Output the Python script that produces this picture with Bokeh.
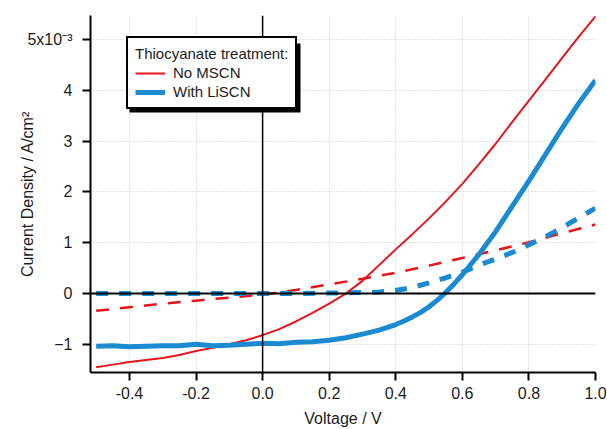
from bokeh.plotting import figure
from bokeh.models import (Range1d, FixedTicker, PrintfTickFormatter, Span,
                          Legend, LegendItem, BoxAnnotation)
from bokeh.embed import file_html
from bokeh.resources import INLINE

# J-V curves, current density in units of 1e-3 A/cm^2
v_light_no = [-0.5, -0.45, -0.4, -0.35, -0.3, -0.25, -0.2, -0.15, -0.1, -0.05,
              0.0, 0.05, 0.1, 0.15, 0.2, 0.25, 0.3, 0.35, 0.4, 0.45, 0.5, 0.55,
              0.6, 0.65, 0.7, 0.75, 0.8, 0.85, 0.9, 0.95, 1.0]
j_light_no = [-1.45, -1.40, -1.35, -1.31, -1.27, -1.21, -1.13, -1.07, -1.00, -0.92,
              -0.82, -0.70, -0.55, -0.38, -0.20, 0.0, 0.25, 0.56, 0.87, 1.17, 1.48,
              1.81, 2.16, 2.55, 2.95, 3.38, 3.80, 4.22, 4.64, 5.06, 5.46]

v_light_li = [-0.5, -0.45, -0.4, -0.35, -0.3, -0.25, -0.2, -0.15, -0.1, -0.05,
              0.0, 0.05, 0.1, 0.15, 0.2, 0.25, 0.3, 0.35, 0.4, 0.425, 0.45, 0.475,
              0.5, 0.525, 0.55, 0.575, 0.6, 0.65, 0.7, 0.75, 0.8, 0.85, 0.9, 0.95, 1.0]
j_light_li = [-1.04, -1.03, -1.05, -1.04, -1.03, -1.03, -1.00, -1.03, -1.02, -1.00,
              -0.98, -0.99, -0.96, -0.95, -0.92, -0.87, -0.80, -0.72, -0.61, -0.54,
              -0.46, -0.37, -0.26, -0.13, 0.02, 0.19, 0.37, 0.77, 1.22, 1.72, 2.22,
              2.74, 3.26, 3.75, 4.20]

v_dark_no = [-0.5, -0.4, -0.3, -0.2, -0.1, 0.0, 0.1, 0.2, 0.3, 0.4, 0.5, 0.6,
             0.7, 0.8, 0.9, 1.0]
j_dark_no = [-0.34, -0.27, -0.20, -0.14, -0.08, -0.02, 0.07, 0.18, 0.29, 0.41,
             0.55, 0.70, 0.85, 1.01, 1.19, 1.36]

v_dark_li = [-0.5, -0.4, -0.3, -0.2, -0.1, 0.0, 0.1, 0.2, 0.3, 0.35, 0.4, 0.45,
             0.5, 0.55, 0.6, 0.65, 0.7, 0.75, 0.8, 0.85, 0.9, 0.95, 1.0]
j_dark_li = [0.0, 0.0, 0.0, 0.0, 0.0, 0.0, 0.0, 0.01, 0.02, 0.03, 0.06, 0.12,
             0.21, 0.31, 0.42, 0.56, 0.68, 0.81, 0.96, 1.12, 1.30, 1.49, 1.68]

x_ticks = [-0.4, -0.2, 0.0, 0.2, 0.4, 0.6, 0.8, 1.0]
y_ticks = [-1, 0, 1, 2, 3, 4, 5]
y_top_label = "5x10\u207b\u00b3"

x_label = "Voltage / V"
y_label = "Current Density / A/cm\u00b2"
legend_title = "Thiocyanate treatment:"
series_labels = ["No MSCN", "With LiSCN"]

RED = "#e8141c"
BLUE = "#1a8bd0"
FONT = "Liberation Sans"
TEXT = "#1c1c1c"

p = figure(width=607, height=429, output_backend="svg", toolbar_location=None,
           x_range=Range1d(-0.517, 1.0), y_range=Range1d(-1.555, 5.476),
           min_border_left=90, min_border_right=12, min_border_top=15,
           min_border_bottom=56)
p.outline_line_color = None
p.background_fill_color = "white"
p.border_fill_color = "white"

for ax in (p.xaxis[0], p.yaxis[0]):
    ax.axis_line_color = "black"
    ax.axis_line_width = 2
    ax.major_tick_line_color = "black"
    ax.major_tick_line_width = 2
    ax.major_tick_out = 8
    ax.major_tick_in = 0
    ax.minor_tick_line_color = None
    ax.major_label_text_font = FONT
    ax.major_label_text_font_size = "16px"
    ax.major_label_text_color = TEXT
    ax.axis_label_text_font = FONT
    ax.axis_label_text_font_size = "16px"
    ax.axis_label_text_font_style = "normal"
    ax.axis_label_text_color = TEXT

p.xaxis.ticker = FixedTicker(ticks=x_ticks)
p.xaxis.formatter = PrintfTickFormatter(format="%.1f")
p.xaxis.major_label_standoff = 6
p.xaxis.axis_label = x_label
p.xaxis.axis_label_standoff = 8

p.yaxis.ticker = FixedTicker(ticks=y_ticks)
p.yaxis.major_label_overrides = {5: y_top_label}
p.yaxis.axis_label = y_label
p.yaxis.major_label_standoff = 10
p.yaxis.axis_label_standoff = -12

for g in (p.xgrid[0], p.ygrid[0]):
    g.grid_line_color = "#c4c4c4"
    g.grid_line_dash = "1 2"
    g.grid_line_width = 1

# zero reference lines
p.add_layout(Span(location=0, dimension="width", line_color="black", line_width=2))
p.add_layout(Span(location=0, dimension="height", line_color="black", line_width=1.5))

p.line(v_dark_no, j_dark_no, line_color=RED, line_width=2.5, line_dash="13 11")
p.line(v_dark_li, j_dark_li, line_color=BLUE, line_width=5, line_dash="12 11")
r_no = p.line(v_light_no, j_light_no, line_color=RED, line_width=2)
r_li = p.line(v_light_li, j_light_li, line_color=BLUE, line_width=5)

# drop shadow behind the legend box (frame-relative pixels)
p.add_layout(BoxAnnotation(left=39, right=210, bottom=260, top=329,
                           left_units="screen", right_units="screen",
                           bottom_units="screen", top_units="screen",
                           fill_color="black", fill_alpha=1.0,
                           line_color=None, level="overlay"))

legend = Legend(items=[LegendItem(label=series_labels[0], renderers=[r_no]),
                       LegendItem(label=series_labels[1], renderers=[r_li])],
                title=legend_title, location=(36, 263), level="overlay")
legend.title_text_font = FONT
legend.title_text_font_size = "15px"
legend.title_text_font_style = "normal"
legend.title_text_color = TEXT
legend.title_standoff = 2
legend.label_text_font = FONT
legend.label_text_font_size = "15px"
legend.label_text_color = TEXT
legend.label_standoff = 8
legend.label_height = 16
legend.glyph_height = 16
legend.glyph_width = 30
legend.spacing = 2
legend.padding = 7
legend.margin = 0
legend.border_line_color = "black"
legend.border_line_alpha = 1.0
legend.border_line_width = 2
legend.background_fill_color = "white"
legend.background_fill_alpha = 1.0
p.add_layout(legend, "center")

open("out.html", "w").write(file_html(p, INLINE))
